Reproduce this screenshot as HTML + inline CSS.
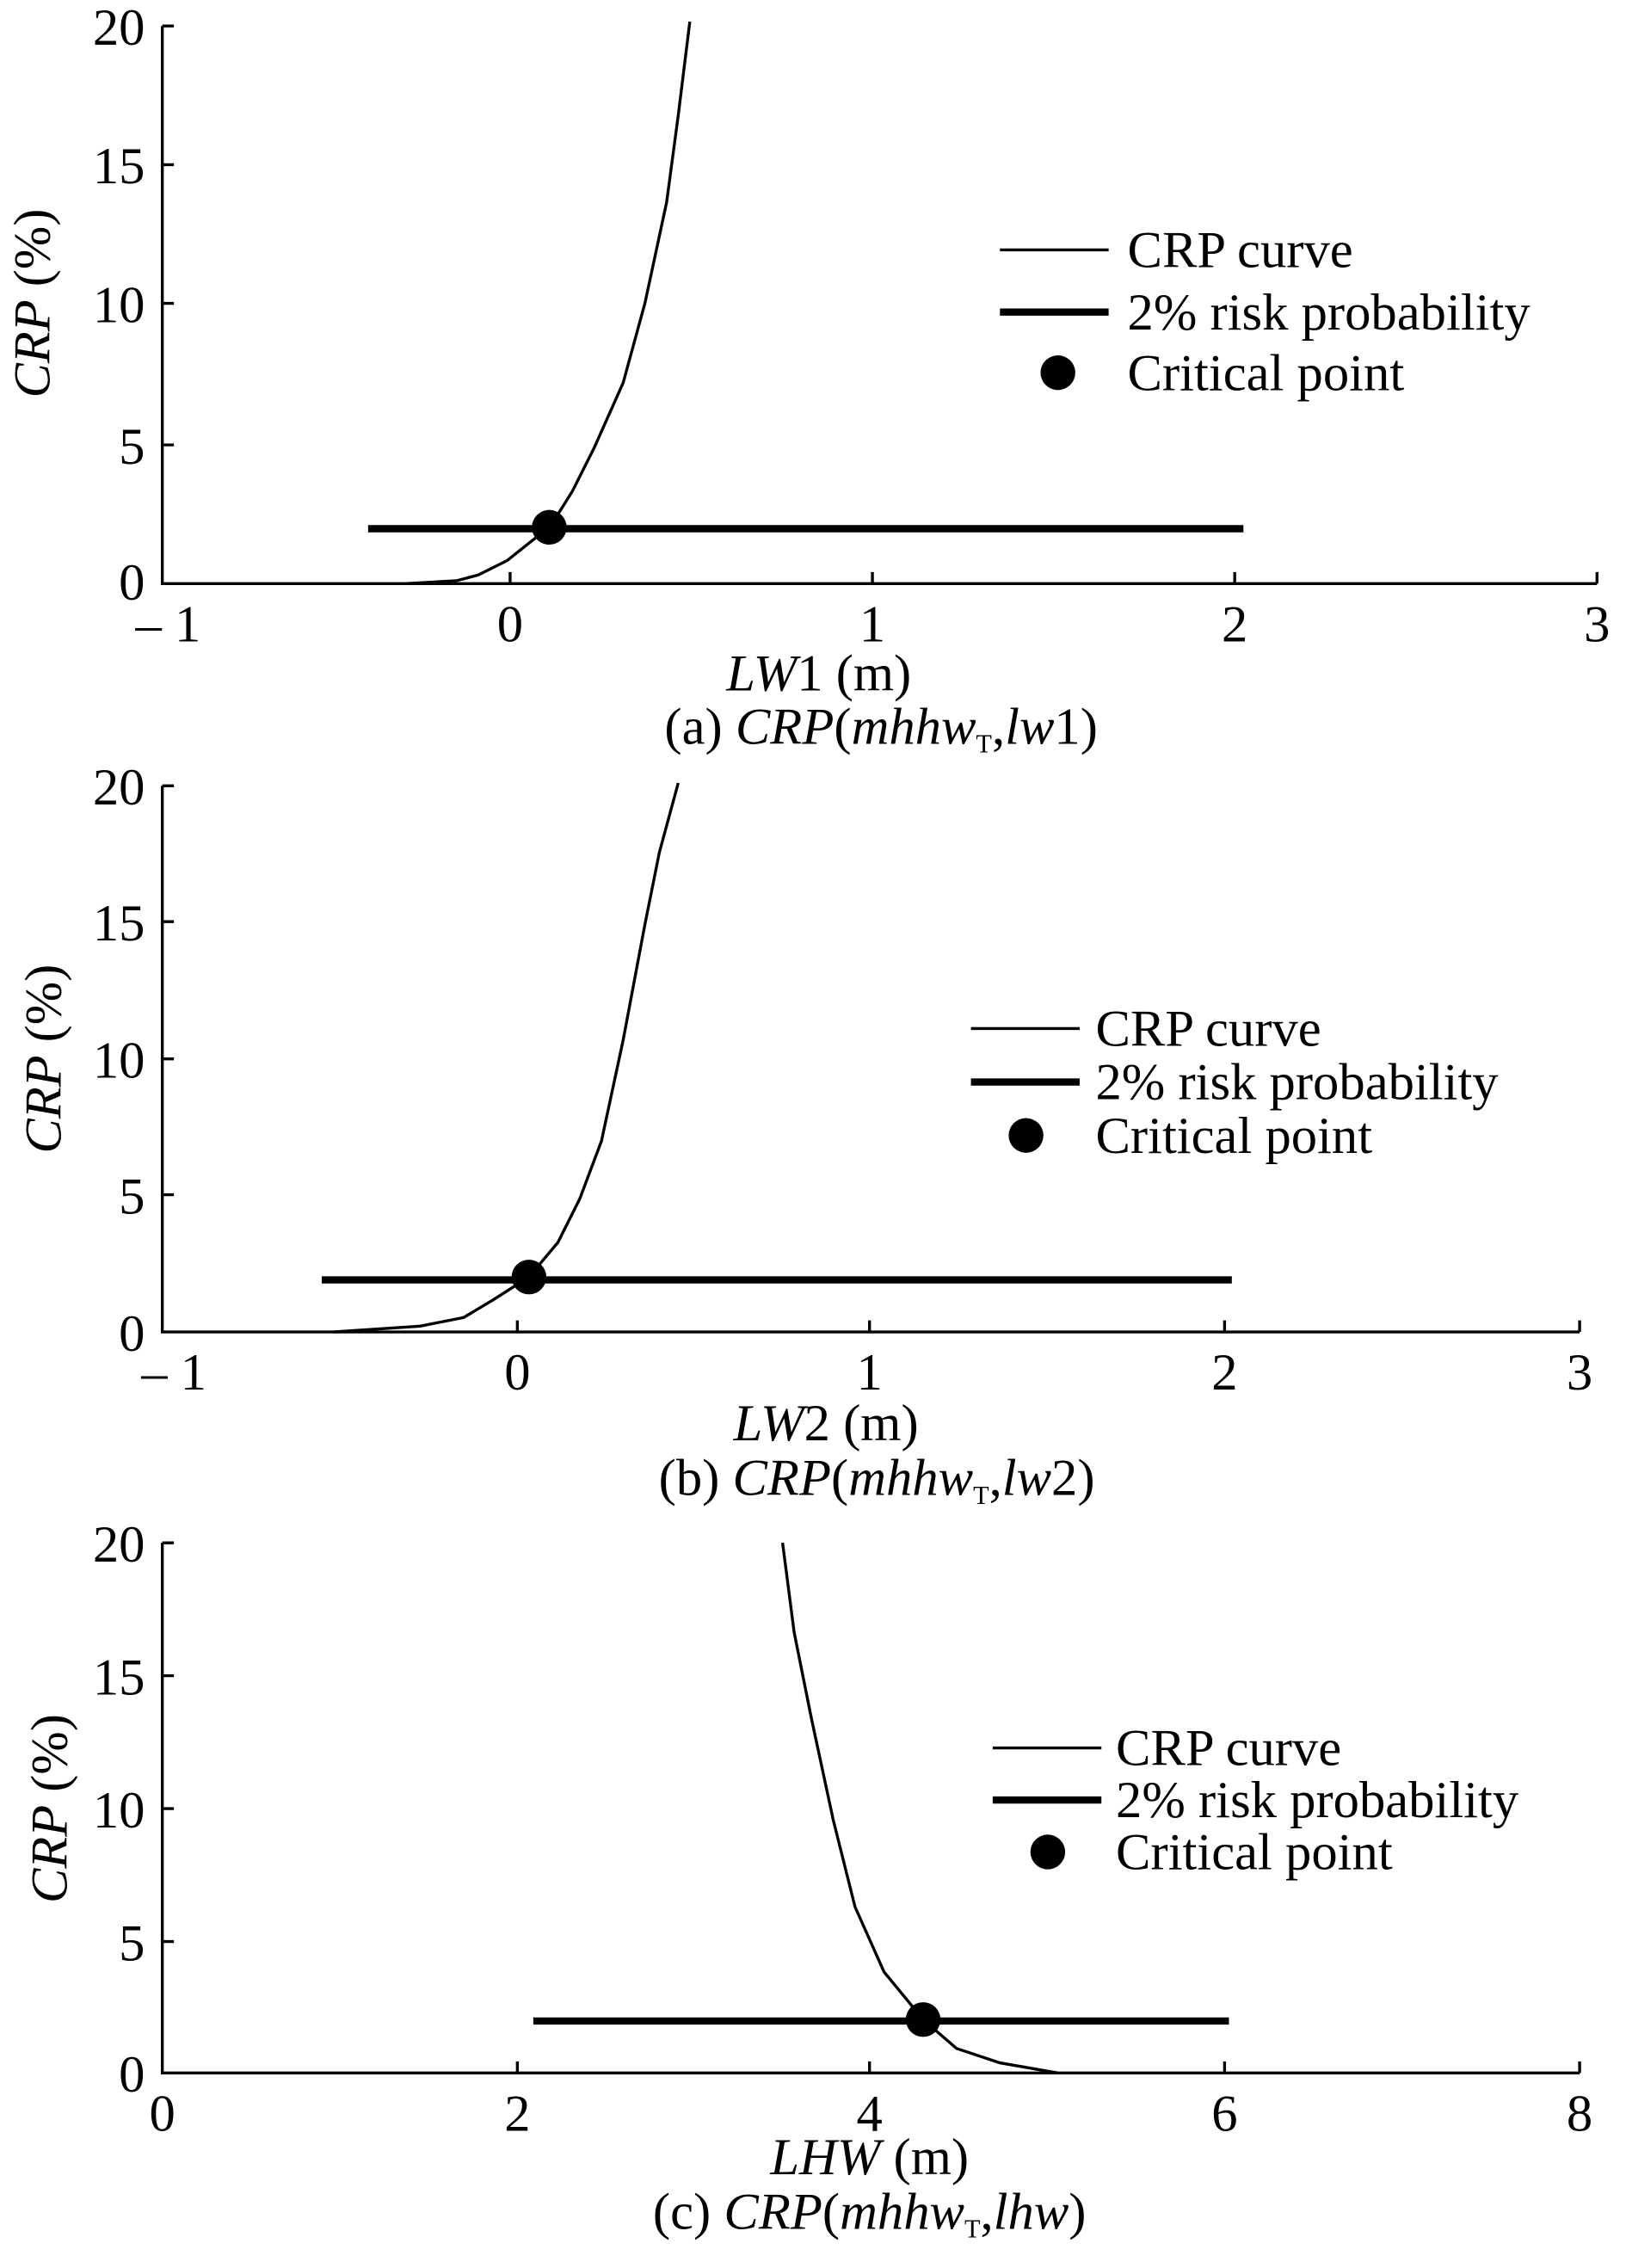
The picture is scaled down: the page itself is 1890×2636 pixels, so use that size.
<!DOCTYPE html>
<html><head><meta charset="utf-8"><style>html,body{margin:0;padding:0;background:#fff}svg{display:block}</style></head><body>
<svg width="1890" height="2636" viewBox="0 0 1122 1570" preserveAspectRatio="none" xmlns="http://www.w3.org/2000/svg" font-family="Liberation Serif, serif" font-size="36" fill="#000">
<g stroke="#000" fill="none" stroke-width="2">
<path d="M112 18V404H1102"/>
<path d="M112 18h8M112 114h8M112 210h8M112 308h8M352 404v-8M602 404v-8M852 404v-8M1102 404v-8"/>
<path d="M280 404L315 402 330 398 350 388 370 372 380 364 395 340 410 310 430 265 445 210 460 140 468 80 476 15"/>
<path d="M254 366H858" stroke-width="5"/>
<path d="M690 173h75" /><path d="M690 216h75" stroke-width="5"/>
<path d="M112 544V922H1090"/>
<path d="M112 544h8M112 638h8M112 733h8M112 827h8M357 922v-8M600 922v-8M845 922v-8M1090 922v-8"/>
<path d="M230 922L290 918 320 912 340 900 365 884 385 860 400 830 415 790 430 720 445 640 455 590 468 542"/>
<path d="M222 886H850" stroke-width="5"/>
<path d="M670 712h75"/><path d="M670 749h75" stroke-width="5"/>
<path d="M112 1068V1435H1090"/>
<path d="M112 1068h8M112 1160h8M112 1252h8M112 1344h8M357 1435v-8M600 1435v-8M845 1435v-8M1090 1435v-8"/>
<path d="M540 1068L548 1130 560 1190 575 1260 590 1320 610 1365 637 1398 660 1418 690 1428 730 1435"/>
<path d="M368 1399H848" stroke-width="5"/>
<path d="M685 1210h75"/><path d="M685 1246h75" stroke-width="5"/>
</g>
<circle cx="379" cy="365" r="12"/><circle cx="730" cy="258" r="12"/>
<circle cx="365" cy="884" r="12"/><circle cx="708" cy="786" r="12"/>
<circle cx="637" cy="1398" r="12"/><circle cx="723" cy="1282" r="12"/>
<g text-anchor="end">
<text x="100" y="31">20</text><text x="100" y="127">15</text><text x="100" y="223">10</text><text x="100" y="321">5</text><text x="100" y="415">0</text>
<text x="100" y="557">20</text><text x="100" y="651">15</text><text x="100" y="746">10</text><text x="100" y="840">5</text><text x="100" y="935">0</text>
<text x="100" y="1081">20</text><text x="100" y="1173">15</text><text x="100" y="1265">10</text><text x="100" y="1357">5</text><text x="100" y="1448">0</text>
</g>
<g text-anchor="middle">
<text x="116" y="444">– 1</text><text x="352" y="444">0</text><text x="602" y="444">1</text><text x="852" y="444">2</text><text x="1102" y="444">3</text>
<text x="120" y="962">– 1</text><text x="357" y="962">0</text><text x="600" y="962">1</text><text x="845" y="962">2</text><text x="1090" y="962">3</text>
<text x="112" y="1475">0</text><text x="357" y="1475">2</text><text x="600" y="1475">4</text><text x="845" y="1475">6</text><text x="1090" y="1475">8</text>
<text x="565" y="478"><tspan font-style="italic">LW</tspan>1 (m)</text>
<text x="608" y="515">(a) <tspan font-style="italic">CRP</tspan>(<tspan font-style="italic">mhhw</tspan><tspan font-size="18" dy="6">T</tspan><tspan dy="-6">,</tspan><tspan font-style="italic">lw</tspan>1)</text>
<text x="570" y="997"><tspan font-style="italic">LW</tspan>2 (m)</text>
<text x="605" y="1035">(b) <tspan font-style="italic">CRP</tspan>(<tspan font-style="italic">mhhw</tspan><tspan font-size="18" dy="6">T</tspan><tspan dy="-6">,</tspan><tspan font-style="italic">lw</tspan>2)</text>
<text x="600" y="1505"><tspan font-style="italic">LHW</tspan> (m)</text>
<text x="600" y="1543">(c) <tspan font-style="italic">CRP</tspan>(<tspan font-style="italic">mhhw</tspan><tspan font-size="18" dy="6">T</tspan><tspan dy="-6">,</tspan><tspan font-style="italic">lhw</tspan>)</text>
<text transform="translate(34 210) rotate(-90)"><tspan font-style="italic">CRP</tspan> (%)</text>
<text transform="translate(42 733) rotate(-90)"><tspan font-style="italic">CRP</tspan> (%)</text>
<text transform="translate(46 1252) rotate(-90)"><tspan font-style="italic">CRP</tspan> (%)</text>
</g>
<text x="778" y="185">CRP curve</text><text x="778" y="228">2% risk probability</text><text x="778" y="270">Critical point</text>
<text x="756" y="724">CRP curve</text><text x="756" y="761">2% risk probability</text><text x="756" y="798">Critical point</text>
<text x="770" y="1222">CRP curve</text><text x="770" y="1258">2% risk probability</text><text x="770" y="1294">Critical point</text>
</svg>
</body></html>
